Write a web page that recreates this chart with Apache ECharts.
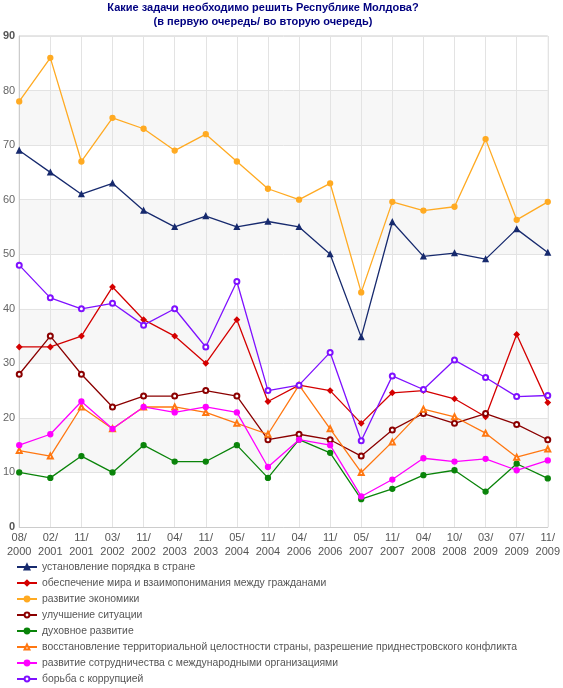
<!DOCTYPE html>
<html><head><meta charset="utf-8">
<script src="https://cdn.jsdelivr.net/npm/echarts@6/dist/echarts.min.js"></script>
<style>html,body{margin:0;padding:0;background:#fff}#c{width:563px;height:688px}</style>
</head><body><div id="c"></div>
<script>
var categories = ["08/2000","02/2001","11/2001","03/2002","11/2002","04/2003","11/2003","05/2004","11/2004","04/2006","11/2006","05/2007","11/2007","04/2008","10/2008","03/2009","07/2009","11/2009"];
var yTicks = {min: 0, max: 90, interval: 10};
var order      = [69,65,61,63,58,55,57,55,56,55,50,34.8,55.9,49.6,50.2,49.1,54.6,50.3];
var peace      = [33,33,35,44,38,35,30,38,23,26,25,19,24.6,25,23.5,20.2,35.3,22.8];
var economy    = [78,86,67,75,73,69,72,67,62,60,63,43,59.6,58,58.7,71.1,56.3,59.6];
var situation  = [28,35,28,22,24,24,25,24,16,17,16,13,17.8,20.8,19,20.8,18.8,16];
var spiritual  = [10,9,13,10,15,12,12,15,9,16,13.6,5.1,7,9.5,10.4,6.5,11.6,8.9];
var territory  = [14,13,22,18,22,22,21,19,17,26,18,10,15.6,21.6,20.2,17.2,12.8,14.3];
var intl       = [15,17,23,18,22,21,22,21,11,16,15,5.6,8.7,12.6,12,12.5,10.4,12.2];
var corruption = [48,42,40,41,37,40,33,45,25,26,32,15.8,27.7,25.2,30.6,27.4,23.9,24.1];

var seriesNames = ["установление порядка в стране","обеспечение мира и взаимопонимания между гражданами","развитие экономики","улучшение ситуации","духовное развитие","восстановление территориальной целостности страны, разрешение приднестровского конфликта","развитие сотрудничества с международными организациями","борьба с коррупцией"];
var seriesData = [order, peace, economy, situation, spiritual, territory, intl, corruption];
var colors = ["#172a6e","#d40000","#ffaa22","#8b0000","#0a840a","#ff7711","#ff00ff","#7f11ff"];
var symbols = ["triangle","diamond","circle","emptyCircle","circle","emptyTriangle","circle","emptyCircle"];
var sizes = [5,5,5,5,5,5,5,5];

var FONT = "Liberation Sans, Arial, sans-serif";
var chart = echarts.init(document.getElementById('c'), null, {renderer:'canvas'});
var series = seriesNames.map(function(n,i){
  return {name:n, type:'line', data:seriesData[i], symbol:symbols[i], symbolSize:sizes[i],
    showAllSymbol:true, lineStyle:{width:1.3,color:colors[i]}, itemStyle:{color:colors[i], borderColor:colors[i], borderWidth:1.3},
    emphasis:{disabled:true}, animation:false};
});
chart.setOption({
  animation:false,
  color:colors,
  title:{text:"Какие задачи необходимо решить Республике Молдова?\n(в первую очередь/ во вторую очередь)", left:263, textAlign:'center', top:1, padding:0,
    textStyle:{fontFamily:FONT, fontSize:11, fontWeight:'bold', color:'#000080', lineHeight:14}},
  grid:{left:17, right:12, top:36, bottom:161, show:true, borderColor:'#cccccc', borderWidth:1, containLabel:false},
  legend:{orient:'vertical', left:16, top:561, padding:0, itemWidth:20, itemHeight:6, itemGap:4,
    textStyle:{fontFamily:FONT, fontSize:10.4, color:'#555', lineHeight:12}, data:seriesNames},
  xAxis:{type:'category', data:categories, boundaryGap:false,
    axisLine:{lineStyle:{color:'#cccccc'}}, axisTick:{show:false},
    axisLabel:{interval:0, margin:4, fontFamily:FONT, fontSize:11, color:'#555', lineHeight:14,
      formatter:function(v){return v.replace('/', '/\n');}},
    splitLine:{show:true, lineStyle:{color:'#e3e3e3'}}},
  yAxis:{type:'value', min:yTicks.min, max:yTicks.max, interval:yTicks.interval,
    axisLine:{show:true, lineStyle:{color:'#cccccc'}}, axisTick:{show:false},
    axisLabel:{margin:4, fontFamily:FONT, fontSize:11, color:'#666',
      formatter:function(v){return (v===0||v===90)?'{b|'+v+'}':''+v;},
      rich:{b:{fontFamily:FONT, fontSize:11, fontWeight:'bold', color:'#555'}}},
    splitLine:{show:true, lineStyle:{color:'#e3e3e3'}},
    splitArea:{show:true, areaStyle:{color:['#ffffff','#f7f7f7']}}},
  series:series
});
</script></body></html>
